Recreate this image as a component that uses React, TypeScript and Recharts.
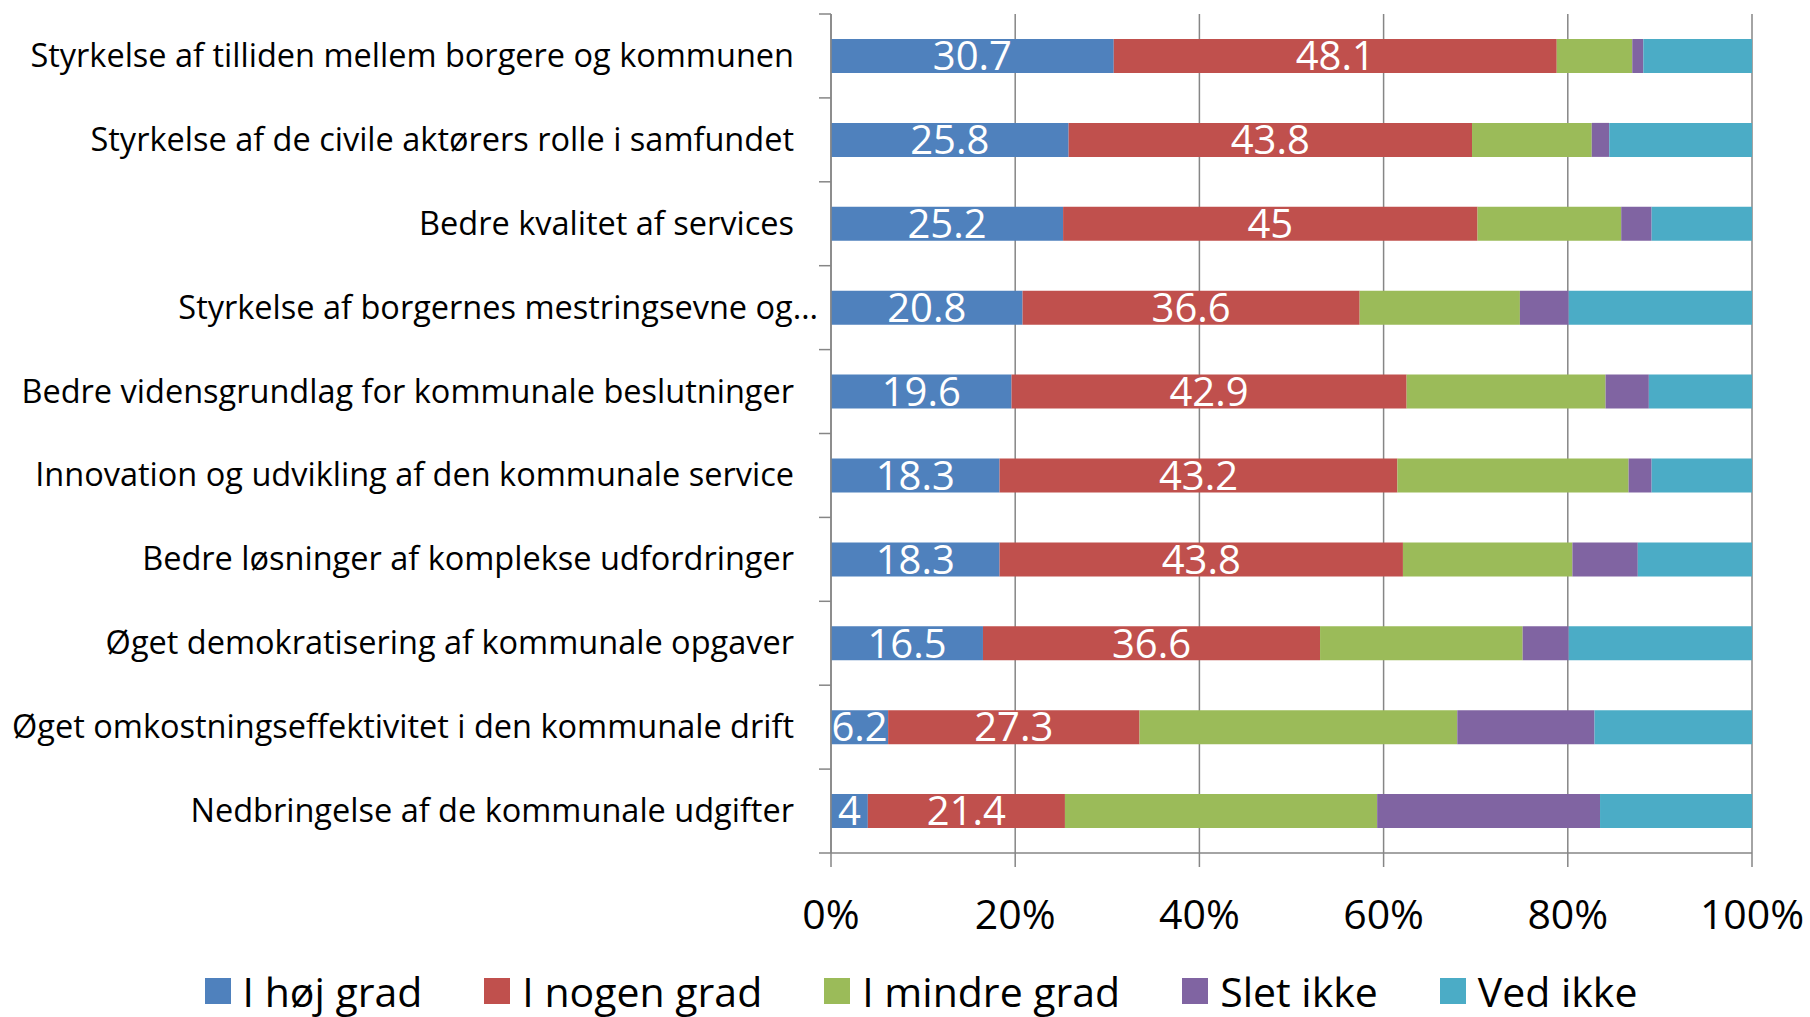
import { BarChart, Bar, XAxis, YAxis, CartesianGrid, Legend, LabelList } from "recharts";

const categories = [
  "Styrkelse af tilliden mellem borgere og kommunen",
  "Styrkelse af de civile aktørers rolle i samfundet",
  "Bedre kvalitet af services",
  "Styrkelse af borgernes mestringsevne og…",
  "Bedre vidensgrundlag for kommunale beslutninger",
  "Innovation og udvikling af den kommunale service",
  "Bedre løsninger af komplekse udfordringer",
  "Øget demokratisering af kommunale opgaver",
  "Øget omkostningseffektivitet i den kommunale drift",
  "Nedbringelse af de kommunale udgifter",
];

const hojGrad = [30.7, 25.8, 25.2, 20.8, 19.6, 18.3, 18.3, 16.5, 6.2, 4];
const nogenGrad = [48.1, 43.8, 45, 36.6, 42.9, 43.2, 43.8, 36.6, 27.3, 21.4];
const mindreGrad = [8.2, 13.0, 15.6, 17.4, 21.6, 25.1, 18.4, 22.0, 34.5, 33.9];
const sletIkke = [1.2, 1.9, 3.3, 5.3, 4.7, 2.5, 7.1, 5.0, 14.9, 24.2];
const vedIkke = [11.8, 15.5, 10.9, 19.9, 11.2, 10.9, 12.4, 19.9, 17.1, 16.5];

const xTicks = [0, 20, 40, 60, 80, 100];

const seriesNames = ["I høj grad", "I nogen grad", "I mindre grad", "Slet ikke", "Ved ikke"];
const seriesKeys = ["hoj", "nogen", "mindre", "slet", "ved"];
const colors = ["#4F81BD", "#C0504D", "#9BBB59", "#8064A2", "#4BACC6"];

const data = categories.map((name, i) => ({
  name,
  hoj: hojGrad[i],
  nogen: nogenGrad[i],
  mindre: mindreGrad[i],
  slet: sletIkke[i],
  ved: vedIkke[i],
}));

const AXIS_X = 831;
const PLOT_TOP = 14;
const PLOT_BOTTOM = 853;
const BAND = (PLOT_BOTTOM - PLOT_TOP) / categories.length;
const GRID = "#868686";

function CategoryTick(props: any) {
  const { y, payload, index } = props;
  const label: string = payload.value;
  // the truncated label sits a bit further right, like in the original
  const right = label.endsWith("…") ? 818 : 794;
  return (
    <g>
      <line x1={AXIS_X - 12} x2={AXIS_X} y1={y - BAND / 2} y2={y - BAND / 2} stroke={GRID} strokeWidth={1.5} />
      {index === categories.length - 1 && (
        <line x1={AXIS_X - 12} x2={AXIS_X} y1={y + BAND / 2} y2={y + BAND / 2} stroke={GRID} strokeWidth={1.5} />
      )}
      <text x={right} y={y + 11} textAnchor="end" fontSize={32.5} fill="#000">
        {label}
      </text>
    </g>
  );
}

function PercentTick(props: any) {
  const { x, payload } = props;
  return (
    <text x={x} y={929} textAnchor="middle" fontSize={41} fill="#000">
      {payload.value}%
    </text>
  );
}

function LegendContent() {
  return (
    <div
      style={{
        height: 84,
        boxSizing: "border-box",
        paddingTop: 32,
        paddingLeft: 90,
        display: "flex",
        justifyContent: "center",
        alignItems: "center",
        gap: 62,
        fontFamily: "Open Sans",
        fontSize: 41,
        color: "#000",
      }}
    >
      {seriesNames.map((n, i) => (
        <div key={n} style={{ display: "flex", alignItems: "center", height: 44 }}>
          <span style={{ width: 26, height: 26, background: colors[i], marginRight: 12, display: "inline-block" }} />
          <span style={{ lineHeight: "44px" }}>{n}</span>
        </div>
      ))}
    </div>
  );
}

export default function App() {
  return (
    <div style={{ position: "absolute", left: 0, top: 0, background: "#fff" }}>
      <BarChart
        width={1810}
        height={1017}
        data={data}
        layout="vertical"
        margin={{ top: PLOT_TOP, right: 58, left: 0, bottom: 0 }}
        style={{ fontFamily: "Open Sans" }}
      >
        <CartesianGrid horizontal={false} stroke={GRID} strokeWidth={1.5} />
        <XAxis
          type="number"
          domain={[0, 100]}
          ticks={xTicks}
          height={80}
          tickSize={14}
          tick={<PercentTick />}
          axisLine={{ stroke: GRID, strokeWidth: 1.5 }}
          tickLine={{ stroke: GRID, strokeWidth: 1.5 }}
          interval={0}
        />
        <YAxis
          type="category"
          dataKey="name"
          width={AXIS_X}
          tick={<CategoryTick />}
          tickLine={false}
          axisLine={{ stroke: GRID, strokeWidth: 1.5 }}
          interval={0}
        />
        <Legend verticalAlign="bottom" height={84} content={<LegendContent />} />
        {seriesKeys.map((k, i) => (
          <Bar key={k} dataKey={k} name={seriesNames[i]} stackId="a" fill={colors[i]} barSize={34} isAnimationActive={false}>
            {i < 2 && <LabelList dataKey={k} position="center" fill="#fff" fontSize={40} />}
          </Bar>
        ))}
      </BarChart>
    </div>
  );
}
